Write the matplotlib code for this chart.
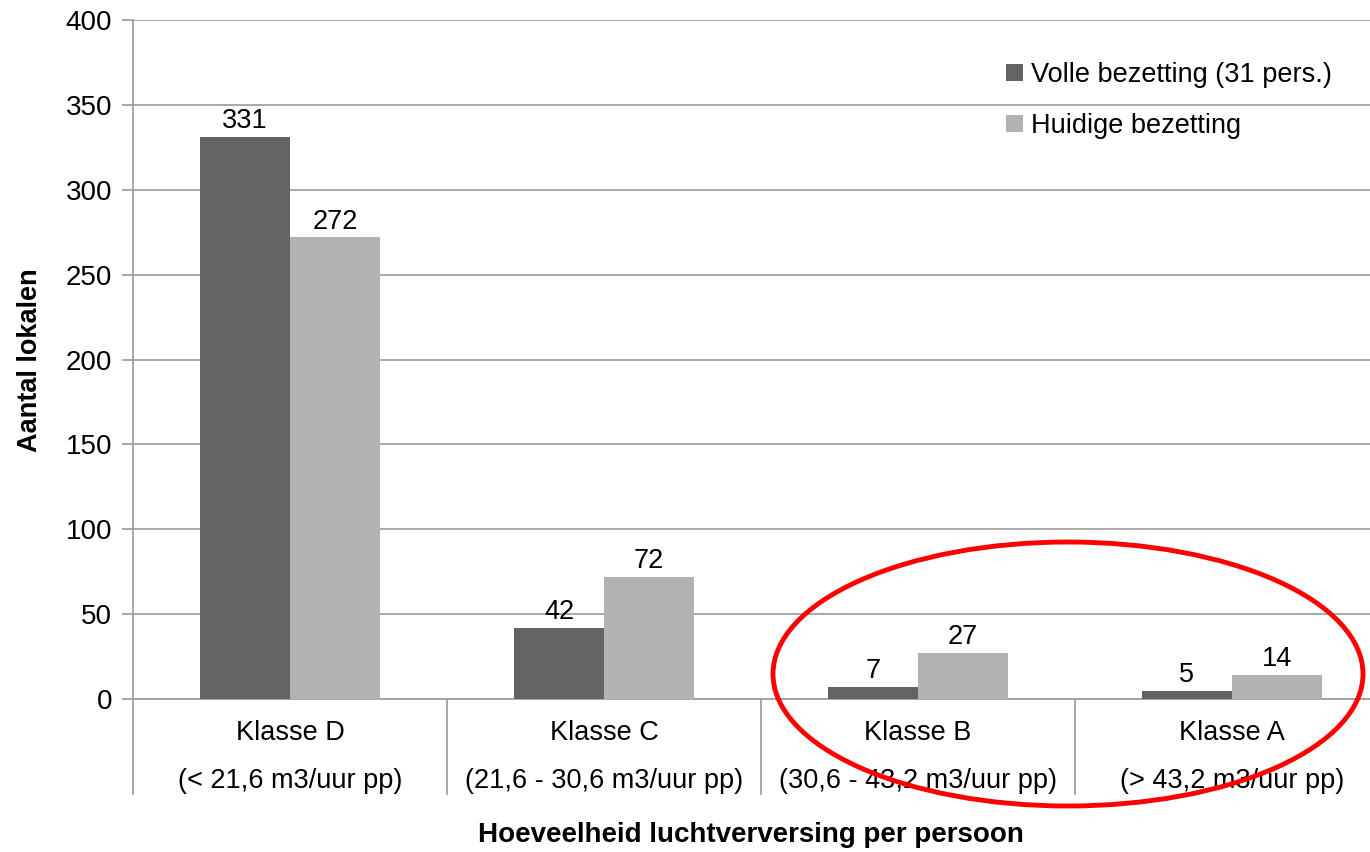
import numpy as np
import matplotlib.pyplot as plt
from matplotlib.patches import Ellipse

plt.rcParams['font.family'] = ['Liberation Sans', 'DejaVu Sans']

# Data
categories = ["Klasse D\n(< 21,6 m3/uur pp)",
              "Klasse C\n(21,6 - 30,6 m3/uur pp)",
              "Klasse B\n(30,6 - 43,2 m3/uur pp)",
              "Klasse A\n(> 43,2 m3/uur pp)"]
volle = [331, 42, 7, 5]
huidige = [272, 72, 27, 14]
series_names = ["Volle bezetting (31 pers.)", "Huidige bezetting"]
yticks = list(range(0, 401, 50))

dark = "#636363"
light = "#b2b2b2"
grid_col = "#9a9a9a"

fig = plt.figure(figsize=(13.7, 8.52), dpi=100)
ax = fig.add_axes([133/1370, (852-699)/852, 1256/1370, 679/852])

x = np.arange(len(categories))
w = 0.287
b1 = ax.bar(x - w/2, volle, w, color=dark, label=series_names[0], zorder=3)
b2 = ax.bar(x + w/2, huidige, w, color=light, label=series_names[1], zorder=3)

for bars, vals in ((b1, volle), (b2, huidige)):
    for rect, v in zip(bars, vals):
        ax.annotate(str(v), (rect.get_x() + rect.get_width()/2, rect.get_height()),
                    xytext=(0, 2), textcoords="offset points",
                    ha="center", va="bottom", fontsize=19.5)

ax.set_xlim(-0.5, 3.5)
ax.set_ylim(0, 400)
ax.set_yticks(yticks)
ax.tick_params(axis="y", labelsize=20, length=8, color=grid_col, pad=7, width=1.2)
ax.yaxis.grid(True, color=grid_col, linewidth=1.2, zorder=0)
ax.set_axisbelow(True)

ax.set_xticks(x)
ax.set_xticklabels(categories, fontsize=19.5, linespacing=2.1)
ax.tick_params(axis="x", which="major", length=0, pad=15)
ax.set_xticks(np.arange(-0.5, 4.0, 1.0), minor=True)
ax.tick_params(axis="x", which="minor", length=69, color=grid_col, width=1.2)

for s in ("top", "right"):
    ax.spines[s].set_visible(False)
for s in ("left", "bottom"):
    ax.spines[s].set_color(grid_col)
    ax.spines[s].set_linewidth(1.2)

fig.text(30/1370, 1 - 360/852, "Aantal lokalen", rotation=90, fontsize=19.5,
         fontweight="bold", ha="center", va="center")
fig.text(751/1370, 1 - 835/852, "Hoeveelheid luchtverversing per persoon",
         fontsize=20, fontweight="bold", ha="center", va="center")

ax.legend(loc="upper left", bbox_to_anchor=(982/1370, 1 - 38/852),
          bbox_transform=fig.transFigure, frameon=False, fontsize=19.5,
          handlelength=0.6, handleheight=0.6, handletextpad=0.3,
          labelspacing=0.9)

# red ellipse highlight around Klasse B and A
ell = Ellipse(((1068-290)/314, (699-674)/(679/400)), 590/314, 264/(679/400),
              fill=False, edgecolor="#ff0000", linewidth=3.5, clip_on=False, zorder=5)
ax.add_patch(ell)

fig.savefig("out.png", dpi=100)
